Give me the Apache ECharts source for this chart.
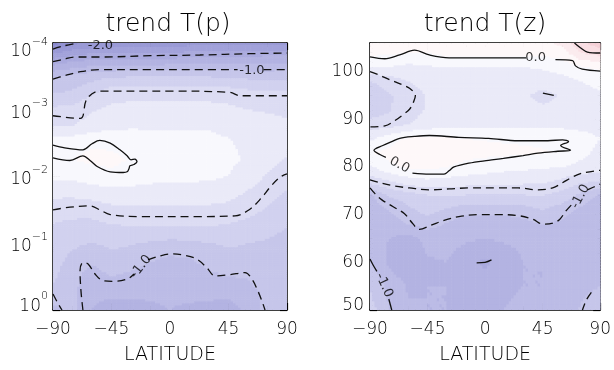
<!DOCTYPE html>
<html>
<head>
<meta charset="utf-8">
<script src="https://cdn.jsdelivr.net/npm/echarts@6/dist/echarts.min.js"></script>
<style>
html,body{margin:0;padding:0;background:#fff}
#c{width:614px;height:370px}
</style>
</head>
<body>
<div id="c"></div>
<script>
// ---- shared latitude columns of both trend fields ----
const lats = [-90, -75, -60, -45, -30, -15, 0, 15, 30, 45, 60, 75, 90];

// ---- trend T(p): log10 pressure levels (top to bottom) and trend values ----
const logP = [-4, -3.75, -3.5, -3.25, -3, -2.75, -2.5, -2.25, -2, -1.75, -1.5, -1.25, -1, -0.75, -0.5, -0.25, 0];
const trendP = [
  [-2.30,-2.05,-1.98,-1.95,-1.93,-1.92,-1.92,-1.90,-1.90,-1.88,-1.86,-1.85,-1.85],
  [-1.57,-1.48,-1.40,-1.38,-1.38,-1.38,-1.37,-1.36,-1.35,-1.33,-1.31,-1.29,-1.28],
  [-1.05,-0.96,-0.89,-0.83,-0.82,-0.82,-0.82,-0.82,-0.82,-0.83,-0.86,-0.87,-0.87],
  [-0.81,-0.77,-0.64,-0.48,-0.47,-0.46,-0.46,-0.46,-0.47,-0.49,-0.54,-0.54,-0.55],
  [-0.56,-0.54,-0.42,-0.36,-0.34,-0.33,-0.33,-0.33,-0.34,-0.36,-0.40,-0.42,-0.44],
  [-0.42,-0.40,-0.30,-0.25,-0.22,-0.22,-0.22,-0.22,-0.22,-0.25,-0.30,-0.33,-0.36],
  [-0.03,-0.06,-0.02,-0.05,-0.10,-0.14,-0.15,-0.15,-0.15,-0.18,-0.25,-0.28,-0.32],
  [-0.02, 0.00, 0.04, 0.06,-0.02,-0.10,-0.12,-0.12,-0.13,-0.16,-0.22,-0.32,-0.42],
  [-0.15,-0.15,-0.10,-0.06,-0.08,-0.12,-0.14,-0.15,-0.16,-0.20,-0.30,-0.42,-0.52],
  [-0.35,-0.35,-0.30,-0.27,-0.28,-0.30,-0.30,-0.30,-0.30,-0.33,-0.42,-0.50,-0.62],
  [-0.50,-0.52,-0.53,-0.46,-0.44,-0.44,-0.44,-0.44,-0.44,-0.46,-0.52,-0.62,-0.72],
  [-0.62,-0.66,-0.66,-0.62,-0.60,-0.60,-0.60,-0.60,-0.60,-0.62,-0.68,-0.74,-0.80],
  [-0.70,-0.76,-0.80,-0.76,-0.78,-0.82,-0.85,-0.84,-0.80,-0.78,-0.80,-0.82,-0.85],
  [-0.72,-0.85,-0.96,-0.86,-0.90,-0.98,-1.04,-1.02,-0.92,-0.85,-0.84,-0.84,-0.82],
  [-0.76,-0.92,-1.10,-1.00,-1.04,-1.12,-1.15,-1.14,-1.05,-1.00,-0.98,-0.88,-0.82],
  [-0.85,-0.95,-1.15,-1.15,-1.15,-1.18,-1.18,-1.17,-1.15,-1.15,-1.08,-0.95,-0.85],
  [-1.05,-0.95,-1.20,-1.30,-1.28,-1.22,-1.20,-1.22,-1.25,-1.30,-1.15,-0.92,-0.85]
];

// ---- trend T(z): altitude levels in km (bottom to top) and trend values ----
const altZ = [50, 55, 60, 65, 68, 71, 74, 77, 80, 83, 86, 89, 92, 95, 98, 101, 104, 106];
const trendZ = [
  [-0.70,-1.00,-1.18,-1.20,-1.20,-1.20,-1.20,-1.20,-1.18,-1.15,-1.10,-0.98,-0.85],
  [-0.82,-1.05,-1.22,-1.20,-1.20,-1.22,-1.25,-1.22,-1.20,-1.20,-1.15,-1.05,-1.00],
  [-0.98,-1.25,-1.36,-1.22,-1.20,-1.28,-1.45,-1.28,-1.20,-1.20,-1.18,-1.15,-1.10],
  [-1.15,-1.20,-1.28,-1.15,-1.15,-1.18,-1.20,-1.18,-1.17,-1.15,-1.15,-1.15,-1.12],
  [-1.15,-1.12,-1.00,-0.92,-1.02,-1.12,-1.12,-1.12,-1.07,-1.00,-1.05,-1.12,-1.15],
  [-1.12,-1.00,-0.85,-0.72,-0.82,-0.92,-0.93,-0.93,-0.90,-0.80,-0.90,-1.05,-1.12],
  [-1.05,-0.78,-0.70,-0.62,-0.62,-0.62,-0.63,-0.63,-0.62,-0.60,-0.68,-0.85,-1.05],
  [-0.52,-0.42,-0.30,-0.25,-0.28,-0.30,-0.32,-0.33,-0.35,-0.36,-0.45,-0.56,-0.60],
  [-0.25,-0.04, 0.03, 0.05, 0.00,-0.06,-0.10,-0.14,-0.16,-0.18,-0.20,-0.25,-0.30],
  [ 0.00, 0.05, 0.12, 0.15, 0.10, 0.06, 0.05, 0.04, 0.02, 0.01,-0.01,-0.15,-0.25],
  [-0.25,-0.08, 0.03, 0.04, 0.03, 0.00,-0.01,-0.02,-0.02,-0.02,-0.01,-0.12,-0.20],
  [-0.52,-0.50,-0.40,-0.32,-0.28,-0.27,-0.27,-0.27,-0.27,-0.28,-0.28,-0.27,-0.27],
  [-0.72,-0.62,-0.50,-0.38,-0.33,-0.32,-0.32,-0.32,-0.33,-0.35,-0.35,-0.30,-0.28],
  [-0.75,-0.62,-0.53,-0.38,-0.33,-0.32,-0.32,-0.33,-0.36,-0.47,-0.38,-0.30,-0.25],
  [-0.60,-0.52,-0.40,-0.33,-0.30,-0.30,-0.30,-0.30,-0.30,-0.30,-0.28,-0.20,-0.12],
  [-0.20,-0.20,-0.25,-0.22,-0.20,-0.20,-0.20,-0.20,-0.20,-0.18,-0.12,-0.02, 0.04],
  [ 0.05, 0.04,-0.01, 0.00, 0.06, 0.06, 0.06, 0.06, 0.06, 0.07, 0.08, 0.40, 0.50],
  [ 0.10, 0.10, 0.15, 0.10, 0.10, 0.10, 0.10, 0.10, 0.12, 0.15, 0.25, 0.55, 0.70]
];

// ---- contour lines of T(p): [latitude, log10 p], one array per line piece ----
const cP_m20 = [[-90,-3.91],[-81,-3.96],[-71,-4.00]];
const cP_m15 = [[-90,-3.72],[-81,-3.76],[-73,-3.79],[-54,-3.79],[-15,-3.81],[23,-3.82],[61,-3.84],[90,-3.85]];
const cP_m10a = [[-90,-3.46],[-81,-3.51],[-69,-3.57],[-54,-3.60],[-15,-3.60],[23,-3.60],[52,-3.60]];
const cP_m10b = [[72,-3.60],[90,-3.60]];
const cP_m05a = [[-90,-2.91],[-69,-2.87],[-64,-3.16],[-54,-3.28],[0,-3.28],[46,-3.26],[54,-3.21],[90,-3.21]];
const cP_zero = [[-90,-2.47],[-81,-2.43],[-67,-2.40],[-60,-2.49],[-54,-2.54],[-46,-2.50],[-38.5,-2.40],[-33,-2.31],
  [-30,-2.25],[-27,-2.26],[-25.4,-2.22],[-27.7,-2.18],[-30.8,-2.16],[-31.5,-2.12],[-33,-2.07],[-36,-2.06],
  [-46,-2.07],[-56,-2.15],[-61.5,-2.24],[-67,-2.31],[-77,-2.24],[-90,-2.28]];
const cP_m05b = [[-90,-1.50],[-77,-1.54],[-61.5,-1.56],[-54,-1.50],[-46,-1.43],[-23,-1.40],[23,-1.40],[50,-1.41],
  [61.5,-1.51],[70.8,-1.69],[77,-1.84],[84.6,-1.99],[90,-2.04]];
const cP_m10c = [[-67,0],[-68.5,-0.29],[-69.2,-0.59],[-67,-0.71],[-63,-0.69],[-57.7,-0.54],[-51.5,-0.44],[-42.3,-0.43],
  [-32.3,-0.47],[-27.7,-0.54]];
const cP_m10d = [[-16.9,-0.75],[-7.7,-0.81],[1.5,-0.84],[11.5,-0.82],[20.8,-0.76],[28.5,-0.63],[34.6,-0.51],
  [46.2,-0.53],[57.7,-0.56],[63.1,-0.46],[67.7,-0.28],[70.8,-0.13],[73.1,0]];
const cP_m10e = [[-90,-0.24],[-86.2,-0.10],[-83.1,0]];

// ---- contour lines of T(z): [latitude, altitude km] ----
const cZ_zeroTopA = [[-90,103.1],[-78.4,102.7],[-66.8,103.5],[-55.2,104.5],[-43.6,103.5],[-28.2,102.9],[32,102.9]];
const cZ_zeroTopB = [[55,102.5],[68.4,102.3],[70.7,101.2],[76,100.5],[90,100.1]];
const cZ_posCorner = [[69.9,106],[74.5,105],[80,104.1],[90,103.9]];
const cZ_m05Left = [[-90,100.0],[-83.8,99.4],[-74.5,98.3],[-65.3,97.3],[-59.1,96.5],[-54.5,95.0],[-56,93.6],
  [-59.1,92.1],[-64.5,90.9],[-70.7,89.7],[-78.4,88.6],[-90,88.4]];
const cZ_m05Spot = [[45.2,95.5],[53.7,95.0]];
const cZ_zeroMidA = [[-77.6,82.0],[-82.3,82.6],[-86.9,83.5],[-80,84.5],[-73,85.3],[-66.8,86.0],[-55.2,86.4],
  [-43.6,86.6],[-20.5,86.2],[2.7,86.0],[25.9,85.5],[49.1,85.5],[60.6,85.7],[65.3,85.3],[59.1,84.5],[66.8,83.5],
  [56.8,83.3],[41.3,82.9],[29.7,82.4],[14.3,81.8],[2.7,81.4],[-12.7,80.8],[-24.3,80.0],[-28.2,79.2],[-32.1,78.5],
  [-43.6,78.5],[-56.8,78.7]];
const cZ_m05Low = [[-90,77.3],[-82.3,76.7],[-70.7,76.0],[-59.1,75.6],[-43.6,75.2],[-28.2,75.4],[-12.7,75.6],
  [10.4,75.6],[25.9,75.6],[41.3,75.2],[52.9,75.6],[60.6,76.7],[68.4,77.9],[76.1,78.7],[90,79.3]];
const cZ_m10A = [[-90,75.6],[-86.1,74.4],[-80.7,73.1],[-72.2,71.7],[-63,70.2],[-56.8,68.2],[-51.4,66.9],[-42.1,67.8],
  [-32.1,68.8],[-20.5,69.6],[-5.1,70.0],[10.4,70.0],[25.9,69.8],[37.5,69.0],[45.2,68.0],[52.9,68.2],[58.3,69.0],
  [63,70.7],[68.4,72.3]];
const cZ_m10B = [[80,75.2],[90,76.4]];
const cZ_m15Spot = [[-6.6,59.9],[0,60.0],[5,60.5]];
const cZ_m10CornerA = [[-90,60.7],[-87.7,59.5],[-84.6,58.1]];
const cZ_m10CornerB = [[-75.3,52.3],[-73,50]];
const cZ_m10CornerC = [[83.1,53.7],[79.2,52.1],[76.1,50]];

// ---- contour labels: [latitude, level, text, rotation] ----
const labP = [[-53.5,-3.96,'-2.0',0],[63,-3.59,'-1.0',0],[-22.3,-0.65,'-1.0',52]];
const labZ = [[39.5,102.9,'0.0',0],[-67,80.4,'0.0',-28],[74.5,73.8,'-1.0',62],[-79,55.2,'-1.0',-65]];

// ---------------------------------------------------------------
const FONT = '"DejaVu Sans", sans-serif';
const WEIGHT = 200;
const INK = '#000';

// colour ramp of the filled trend bands
const ramp = [
  [-2.5, [128,128,200]], [-2.0, [150,150,212]], [-1.5, [170,170,222]], [-1.0, [192,192,232]],
  [-0.5, [220,220,243]], [0.0, [255,255,255]], [0.5, [249,222,227]], [1.0, [238,190,197]]
];
const STEP = 0.2;
function bandColor(v) {
  const q = (Math.floor(v / STEP) + 0.5) * STEP;
  if (q <= ramp[0][0]) return 'rgb(' + ramp[0][1].join(',') + ')';
  for (let k = 0; k < ramp.length - 1; k++) {
    const a = ramp[k], b = ramp[k + 1];
    if (q <= b[0]) {
      const t = (q - a[0]) / (b[0] - a[0]);
      const c = a[1].map((x, n) => Math.round(x + (b[1][n] - x) * t));
      return 'rgb(' + c.join(',') + ')';
    }
  }
  return 'rgb(' + ramp[ramp.length - 1][1].join(',') + ')';
}

// filled field drawn cell by cell with bilinear shading between the grid nodes
function fieldSeries(axisIdx, xs, ys, vals, toAxisY) {
  const cells = [];
  for (let j = 0; j < ys.length - 1; j++)
    for (let i = 0; i < xs.length - 1; i++)
      cells.push([xs[i], toAxisY(ys[j]), i, j]);
  const N = 8;
  return {
    type: 'custom', xAxisIndex: axisIdx, yAxisIndex: axisIdx, silent: true, clip: true, z: 1,
    data: cells,
    renderItem: function (params, api) {
      const i = api.value(2), j = api.value(3);
      const a = api.coord([xs[i], toAxisY(ys[j])]);
      const b = api.coord([xs[i + 1], toAxisY(ys[j + 1])]);
      const v00 = vals[j][i], v10 = vals[j][i + 1], v01 = vals[j + 1][i], v11 = vals[j + 1][i + 1];
      const dx = (b[0] - a[0]) / N, dy = (b[1] - a[1]) / N;
      const kids = [];
      for (let m = 0; m < N; m++) {
        for (let n = 0; n < N; n++) {
          const u = (m + 0.5) / N, w = (n + 0.5) / N;
          const v = v00 * (1 - u) * (1 - w) + v10 * u * (1 - w) + v01 * (1 - u) * w + v11 * u * w;
          const x0 = a[0] + dx * m, y0 = a[1] + dy * n;
          const x = Math.min(x0, x0 + dx), y = Math.min(y0, y0 + dy);
          kids.push({
            type: 'rect',
            shape: { x: x - 0.3, y: y - 0.3, width: Math.abs(dx) + 0.6, height: Math.abs(dy) + 0.6 },
            style: { fill: bandColor(v) }
          });
        }
      }
      return { type: 'group', children: kids };
    }
  };
}

function contour(axisIdx, pts, dashed, toAxisY) {
  return {
    type: 'line', xAxisIndex: axisIdx, yAxisIndex: axisIdx, silent: true, z: 3,
    data: pts.map(p => [p[0], toAxisY(p[1])]),
    symbol: 'none', smooth: 0.35, clip: true,
    lineStyle: { color: '#111', width: 1.3, type: dashed ? [8, 5] : 'solid' }
  };
}

function labels(axisIdx, list, toAxisY) {
  return {
    type: 'scatter', xAxisIndex: axisIdx, yAxisIndex: axisIdx, silent: true, z: 4, symbolSize: 0,
    data: list.map(l => ({
      value: [l[0], toAxisY(l[1])],
      label: { show: true, position: 'inside', formatter: l[2], rotate: l[3],
               color: INK, fontSize: 13, fontFamily: FONT, fontWeight: 400 }
    }))
  };
}

const idP = e => Math.pow(10, e);
const idZ = z => z;

const minus = s => String(s).replace('-', '\u2212');
function xAxes(grid, top) {
  return {
    gridIndex: grid, type: 'value', min: -90, max: 90, interval: 45,
    position: top ? 'top' : 'bottom',
    axisLine: { show: true, onZero: false, lineStyle: { color: '#000', width: 1.5 } },
    axisTick: { show: true, inside: true, length: 7, lineStyle: { color: '#000', width: 1.2 } },
    minorTick: { show: true, splitNumber: 3, length: 4, lineStyle: { color: '#000', width: 1 } },
    splitLine: { show: false },
    axisLabel: { show: !top, formatter: v => minus(v), color: INK, fontSize: 17, fontFamily: FONT, fontWeight: WEIGHT, margin: 11 },
    name: top ? '' : 'LATITUDE', nameLocation: 'middle', nameGap: 36,
    nameTextStyle: { color: INK, fontSize: 19, fontFamily: FONT, fontWeight: WEIGHT }
  };
}

const tok = (size, va, lh) => ({ fontSize: size, fontFamily: FONT, fontWeight: WEIGHT, color: INK, lineHeight: lh || 24, verticalAlign: va });
const supRich = { b: tok(17, 'bottom'), s: tok(11, 'top'), gapT: tok(4, 'middle', 11), gapB: tok(4, 'middle', 14) };

const option = {
  animation: false,
  backgroundColor: '#fff',
  grid: [
    { left: 53, top: 43, width: 234, height: 272 },
    { left: 370, top: 43, width: 233, height: 271 }
  ],
  xAxis: [xAxes(0, false), xAxes(0, true), xAxes(1, false), xAxes(1, true)],
  yAxis: [
    {
      gridIndex: 0, type: 'log', logBase: 10, min: 1e-4, max: 1, inverse: true, position: 'left',
      axisLine: { show: true, onZero: false, lineStyle: { color: '#000', width: 1.5 } },
      axisTick: { show: true, inside: true, length: 7, lineStyle: { color: '#000', width: 1.2 } },
      splitLine: { show: false },
      axisLabel: {
        color: INK, margin: 5, rich: supRich, align: 'right',
        formatter: function (v) {
          const n = Math.round(Math.log10(v));
          const e = n < 0 ? '\u2212' + (-n) : String(n);
          const core = '{b|10}{s|' + e + '}';
          if (n === -4) return '{gapT| }\n' + core;
          if (n === 0) return core + '\n{gapB| }';
          return core;
        }
      }
    },
    {
      gridIndex: 0, type: 'log', logBase: 10, min: 1e-4, max: 1, inverse: true, position: 'right',
      axisLine: { show: true, onZero: false, lineStyle: { color: '#000', width: 1.5 } },
      axisTick: { show: true, inside: true, length: 7, lineStyle: { color: '#000', width: 1.2 } },
      splitLine: { show: false }, axisLabel: { show: false }
    },
    {
      gridIndex: 1, type: 'value', min: 50, max: 106, interval: 10, position: 'left',
      axisLine: { show: true, onZero: false, lineStyle: { color: '#000', width: 1.5 } },
      axisTick: { show: true, inside: true, length: 7, lineStyle: { color: '#000', width: 1.2 } },
      minorTick: { show: true, splitNumber: 10, length: 3, lineStyle: { color: '#000', width: 1 } },
      splitLine: { show: false },
      axisLabel: {
        color: INK, fontSize: 17, fontFamily: FONT, fontWeight: WEIGHT, margin: 6, showMaxLabel: false,
        formatter: v => (v === 50 ? '{n|50}\n{gapB| }' : '{n|' + v + '}'),
        rich: { n: tok(17, 'middle', 20), gapB: tok(4, 'middle', 9) }
      }
    },
    {
      gridIndex: 1, type: 'value', min: 50, max: 106, interval: 10, position: 'right',
      axisLine: { show: true, onZero: false, lineStyle: { color: '#000', width: 1.5 } },
      axisTick: { show: true, inside: true, length: 7, lineStyle: { color: '#000', width: 1.2 } },
      minorTick: { show: true, splitNumber: 10, length: 3, lineStyle: { color: '#000', width: 1 } },
      splitLine: { show: false }, axisLabel: { show: false }
    }
  ],
  graphic: [
    { type: 'text', x: 168, y: 24, style: { text: 'trend T(p)', font: WEIGHT + ' 25px ' + FONT, fill: INK, textAlign: 'center', textVerticalAlign: 'middle' } },
    { type: 'text', x: 485, y: 24, style: { text: 'trend T(z)', font: WEIGHT + ' 25px ' + FONT, fill: INK, textAlign: 'center', textVerticalAlign: 'middle' } }
  ],
  series: []
};

// trend T(p) panel: yAxis 0 is a log pressure axis (pressure = 10^logP)
option.series.push(fieldSeries(0, lats, logP, trendP, idP));
[[cP_m20, true], [cP_m15, true], [cP_m10a, true], [cP_m10b, true], [cP_m05a, true], [cP_zero, false],
 [cP_m05b, true], [cP_m10c, true], [cP_m10d, true], [cP_m10e, true]]
  .forEach(c => option.series.push(contour(0, c[0], c[1], idP)));
option.series.push(labels(0, labP, idP));

// trend T(z) panel: altitude axis
option.series.push(fieldSeries(2, lats, altZ, trendZ, idZ));
[[cZ_zeroTopA, false], [cZ_zeroTopB, false], [cZ_posCorner, false], [cZ_m05Left, true], [cZ_m05Spot, false],
 [cZ_zeroMidA, false], [cZ_m05Low, true], [cZ_m10A, true], [cZ_m10B, true], [cZ_m15Spot, false],
 [cZ_m10CornerA, false], [cZ_m10CornerB, false], [cZ_m10CornerC, true]]
  .forEach(c => option.series.push(contour(2, c[0], c[1], idZ)));
option.series.push(labels(2, labZ, idZ));

const chart = echarts.init(document.getElementById('c'));
chart.setOption(option);
</script>
</body>
</html>
